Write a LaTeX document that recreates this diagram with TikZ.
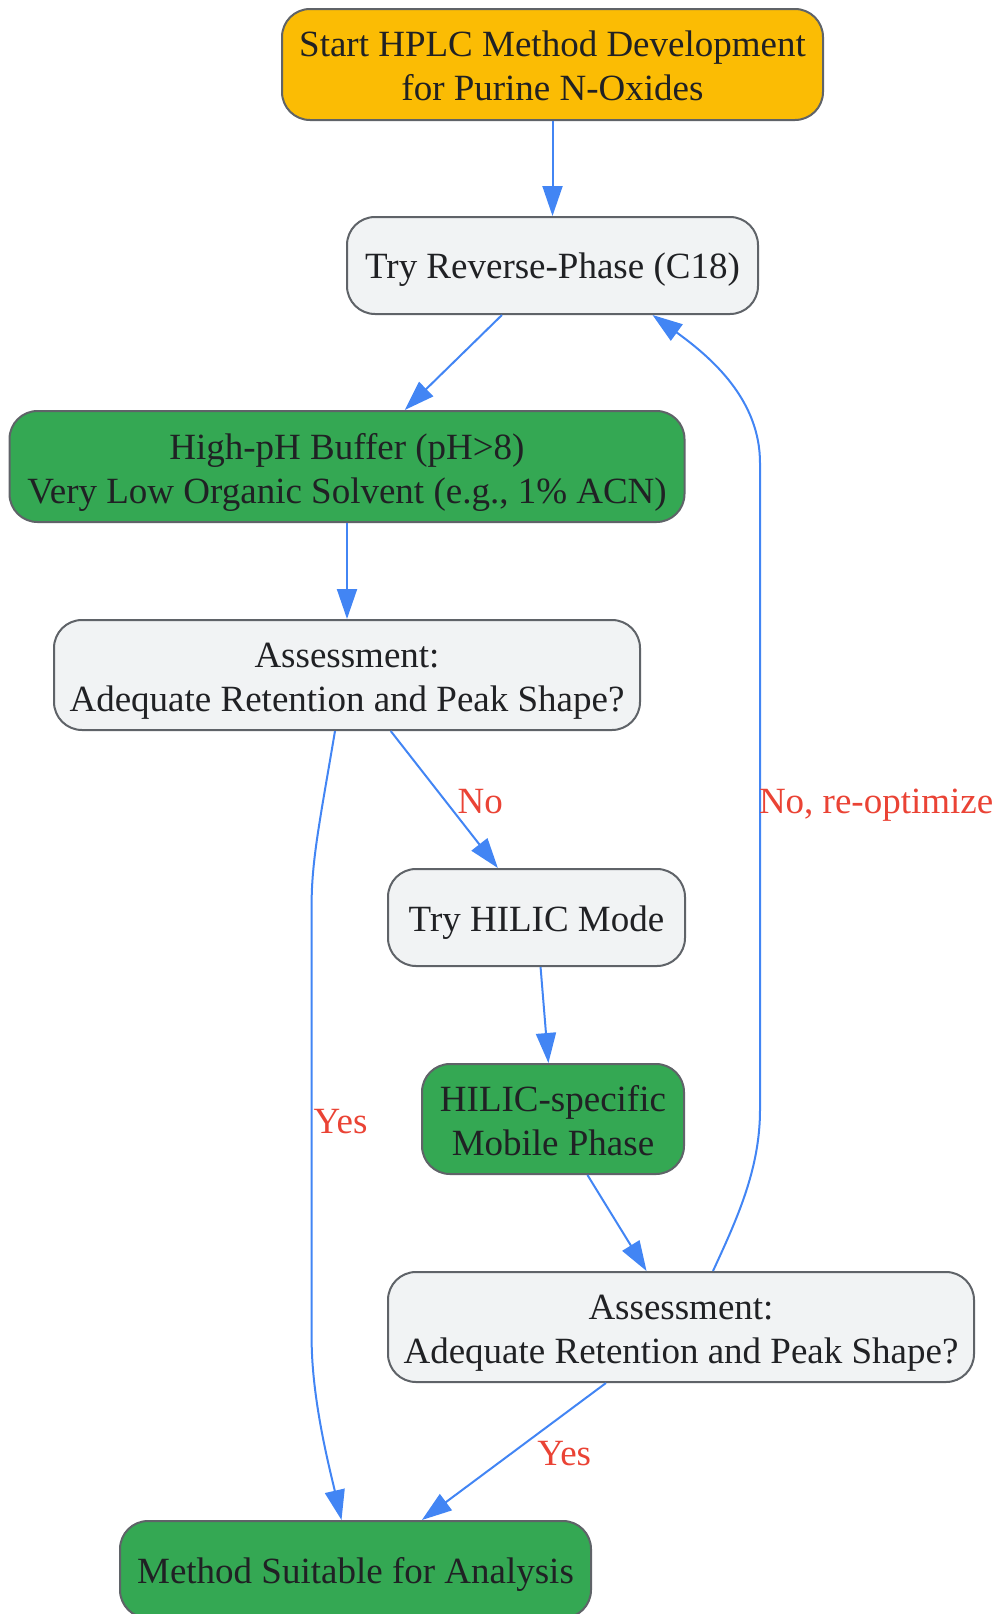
\documentclass[tikz,border=0pt]{standalone}
\usepackage{fontspec}
\setmainfont{Liberation Serif}
\usetikzlibrary{arrows.meta,calc}
\definecolor{edgeblue}{HTML}{4285F4}
\definecolor{bordergray}{HTML}{5F6368}
\definecolor{textdark}{HTML}{202124}
\definecolor{startyellow}{HTML}{FBBC04}
\definecolor{greyfill}{HTML}{F1F3F4}
\definecolor{greenfill}{HTML}{34A853}
\definecolor{labelred}{HTML}{EA4335}
\begin{document}
\begin{tikzpicture}[x=1pt,y=-1pt,
  box/.style={draw=bordergray, line width=2pt, rounded corners=28pt, inner sep=0pt},
  boxtext/.style={align=center, text=textdark, font=\fontsize{37}{44}\selectfont, inner sep=0pt, label distance=0pt},
  startbox/.style={box, fill=startyellow},
  grbox/.style={box, fill=greyfill},
  gnbox/.style={box, fill=greenfill},
  conn/.style={draw=edgeblue, line width=2pt, -{Triangle[length=30pt,width=20pt]}},
  lbl/.style={text=labelred, font=\fontsize{37}{44}\selectfont}
]
\useasboundingbox (0,0) rectangle (997,1614);
\node[startbox, minimum width=541pt, minimum height=111pt,
  label={[boxtext, yshift=-1pt]center:{Start HPLC Method Development\\for Purine N-Oxides}}] (start) at (552.5,64.5) {};
\node[grbox, minimum width=411pt, minimum height=97pt,
  label={[boxtext, yshift=-4pt]center:{Try Reverse-Phase (C18)}}] (rp) at (552.5,265.5) {};
\node[gnbox, minimum width=675pt, minimum height=111pt,
  label={[boxtext, yshift=-6pt]center:{High-pH Buffer (pH>8)\\Very Low Organic Solvent (e.g., 1\% ACN)}}] (high) at (347,466.5) {};
\node[grbox, minimum width=586pt, minimum height=110pt,
  label={[boxtext, yshift=-6pt]center:{Assessment:\\Adequate Retention and Peak Shape?}}] (a1) at (347,675) {};
\node[grbox, minimum width=297pt, minimum height=97pt,
  label={[boxtext, yshift=-5pt]center:{Try HILIC Mode}}] (hilic) at (536.5,917.5) {};
\node[gnbox, minimum width=262pt, minimum height=110pt,
  label={[boxtext, yshift=-2pt]center:{HILIC-specific\\Mobile Phase}}] (hspec) at (553,1119) {};
\node[grbox, minimum width=586pt, minimum height=110pt,
  label={[boxtext, yshift=-6pt]center:{Assessment:\\Adequate Retention and Peak Shape?}}] (a2) at (681,1327) {};
\node[gnbox, minimum width=471pt, minimum height=97pt,
  label={[boxtext, yshift=-5pt]center:{Method Suitable for Analysis}}] (method) at (355.5,1569.5) {};

\draw[conn] (start) -- (rp);
\draw[conn] (rp) -- (high);
\draw[conn] (high) -- (a1);
\draw[conn] (a1) -- node[lbl, pos=0.5, anchor=west, xshift=9pt, yshift=-2pt] {No} (hilic);
\draw[conn] (hilic) -- (hspec);
\draw[conn] (hspec) -- (a2);
\draw[conn] (a2) -- node[lbl, pos=0.5, anchor=west, xshift=19pt, yshift=-2pt] {Yes} (method);
\draw[conn] ($(a1.south)+(-12,0)$) .. controls (320,820) and (311.6,860) .. (311.6,905)
  -- node[lbl, pos=0.5, anchor=west, inner sep=1pt] {Yes} (311.6,1338)
  .. controls (311.6,1400) and (330,1470) .. ($(method.north)+(-14,0)$);
\draw[conn] ($(a2.north)+(32,0)$) .. controls ($(a2.north)+(55,-50)$) and (760,1170) .. (760,1110)
  -- node[lbl, pos=0.477, anchor=west, inner sep=0pt, xshift=-2pt, yshift=-4pt] {No, re-optimize} (760,463)
  .. controls (760,400) and (712,358) .. ($(rp.south)+(100,0)$);
\end{tikzpicture}
\end{document}
